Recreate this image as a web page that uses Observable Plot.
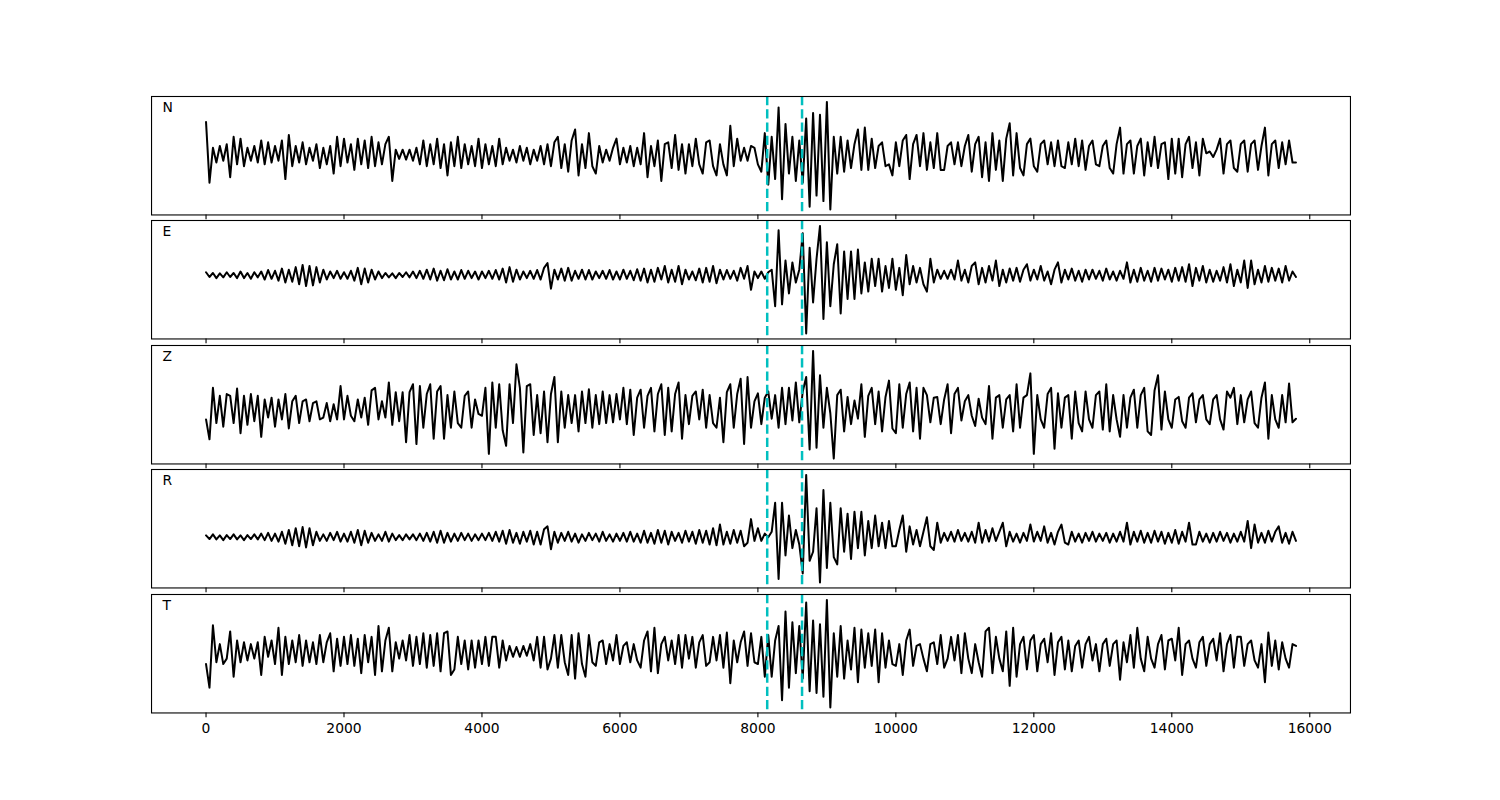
<!DOCTYPE html>
<html><head><meta charset="utf-8">
<script src="https://cdn.jsdelivr.net/npm/d3@7"></script>
<script src="https://cdn.jsdelivr.net/npm/@observablehq/plot@0.6"></script>
<style>
body{margin:0;background:#fff}
#fig{position:relative;width:1500px;height:800px;font-family:"DejaVu Sans",sans-serif;background:#fff}
</style>
</head><body><div id="fig"></div>
<script>
// Components (panel labels), top to bottom
const components = ["N", "E", "Z", "R", "T"];
// Sample spacing of the traces (samples)
const sampleStep = 50;
// Phase pick times (dashed cyan lines)
const pickTimes = [8135, 8640];
// x-axis ticks
const xTicks = [0, 2000, 4000, 6000, 8000, 10000, 12000, 14000, 16000];

const traceN = [
90,-75,20,-20,25,-15,30,-60,50,-25,45,-30,20,-15,25,-20,40,-25,35,-20,
25,-15,40,-65,55,-30,25,-20,35,-25,20,-15,30,-35,20,-25,25,-50,50,-30,
45,-20,30,-40,45,-25,40,-35,50,-30,35,-25,30,50,-70,15,-10,15,-12,15,
-15,20,-25,40,-30,30,-25,45,-35,30,-55,35,-30,50,-35,30,-25,25,-30,45,
-35,30,-25,25,-30,45,-25,20,-15,15,-20,25,-15,20,-25,15,-15,25,-25,30,
-30,35,50,-35,30,-45,40,70,-55,30,-35,60,-30,-50,25,-20,15,-15,20,45,
-25,20,-20,25,-30,20,-25,60,-60,25,-30,40,-70,30,35,-35,55,-40,30,-50,
30,-30,45,-25,-50,35,40,-30,-55,30,-25,-55,80,-30,45,-15,20,-15,25,20,
-25,-45,60,-80,50,-65,130,-120,85,-50,50,-70,40,-75,100,-140,115,-110,110,-125,
145,-148,50,-50,50,-45,40,-35,30,70,-40,75,-40,45,-35,25,35,-30,-25,-55,
35,-30,40,55,-65,30,55,-30,60,-40,35,-35,60,-40,-40,25,35,-25,35,-30,
25,55,-45,30,50,-60,35,-70,60,-40,40,-70,45,87,-55,60,-35,-55,30,45,
-30,-45,30,40,-25,35,-30,40,-30,-35,35,-25,45,-30,40,-40,25,40,-25,-30,
25,40,-35,-50,30,75,-50,30,40,-50,25,45,-55,35,-30,50,-35,30,35,-65,
45,-50,45,-60,30,50,-35,35,-55,45,5,10,-5,15,45,-50,30,40,-35,-45,
30,40,-45,30,40,-40,25,75,-55,30,40,-35,35,-25,40,-20,-20
];

const traceE = [
8,-5,6,-8,5,-6,8,-5,6,-8,10,-8,6,-10,8,-6,10,-12,14,-10,
12,-15,18,-20,15,-18,22,-25,28,-30,25,-28,22,-20,15,-12,10,-8,12,-10,
8,-10,12,-15,20,-25,18,-20,15,-12,10,-8,6,-6,5,-8,6,-5,8,-6,
10,-8,12,-10,15,-12,18,-15,12,-14,16,-12,10,-12,14,-10,12,-8,10,-12,
10,-8,12,-10,14,-12,18,-20,22,-18,15,-12,10,-8,12,-10,14,-12,20,33,
-37,15,-12,18,-15,20,-15,12,-10,15,-12,14,-12,10,-8,12,-10,14,-12,10,
-12,15,-10,12,-14,16,-15,18,-20,15,-18,20,-12,25,-20,15,-18,25,-25,15,
-12,10,-14,18,-20,20,-18,25,-22,15,-12,14,-10,12,-15,20,-10,25,-40,10,
-8,10,-10,8,15,-85,123,-80,40,-50,35,-20,15,115,-160,75,-75,45,135,-120,
90,-85,30,85,-105,65,-65,65,-65,70,-50,35,-45,45,-30,45,-45,25,-35,45,
-40,20,-55,55,-25,25,-20,20,-25,-45,45,-20,15,-10,12,-10,15,-12,40,-15,
15,-20,25,35,-25,20,-20,25,-15,40,-30,15,-20,18,-15,20,-18,15,30,-15,
15,-12,25,-15,10,-25,15,35,-20,15,-12,18,-15,12,-18,15,-12,15,-10,12,
-15,18,-12,10,-15,12,-10,35,-20,15,-18,20,-15,12,-18,20,-15,18,-12,15,
-18,20,-15,22,-18,30,-30,20,-15,25,-20,15,-18,12,-15,22,-20,30,-30,15,
-20,40,-35,40,-25,15,-20,25,-18,20,-15,18,-20,25,-15,10,-5
];

const traceZ = [
-30,-85,57,-40,35,-50,40,35,-40,55,-68,35,-45,40,-35,35,-78,25,-25,30,
-50,25,-30,40,-55,20,35,-40,20,25,-35,15,20,-30,-25,15,-35,12,-30,62,
-30,35,-20,-35,25,-25,30,-45,50,57,-30,20,-25,72,-45,45,-35,45,-93,45,
67,-98,62,-53,40,67,-83,47,62,-83,37,-53,47,-40,-53,35,47,-53,25,-15,
-20,57,-125,72,-53,67,-60,-103,67,-40,122,57,-121,62,67,-73,37,-68,47,-93,
40,87,-93,47,-53,37,-40,37,-63,47,-40,53,-53,37,-43,47,-40,37,-38,40,
-30,57,-43,52,-73,30,52,-53,35,57,-63,40,67,-73,57,-63,40,72,-83,37,
-43,35,47,-30,52,-53,37,-40,-53,30,-93,45,67,-53,40,82,-98,87,-53,20,
42,-43,30,47,-28,37,-53,57,-43,57,-33,72,-38,47,87,-113,159,-108,92,-53,
57,-13,-138,37,52,-63,32,-43,22,-28,67,-78,35,57,-43,47,-63,32,77,-55,
-68,67,-53,40,72,-63,57,-83,57,37,-38,30,32,-43,25,67,-68,40,57,-33,
20,37,-20,-48,27,-25,-43,62,-83,30,37,-53,25,37,-63,67,-53,30,37,97,
-125,37,-30,-53,40,57,-111,42,-53,30,37,-83,47,-40,-63,47,-30,-53,37,47,
-58,67,-63,37,-30,-78,37,-53,30,52,-53,37,57,-63,-73,50,92,-58,47,-30,
-53,25,32,-35,-53,30,42,-38,25,37,-30,-43,25,37,-30,-58,47,30,57,-43,
37,-38,25,47,-40,-53,30,72,-83,37,-30,-53,37,-38,69,-38,-28
];

const traceR = [
5,-5,8,-6,5,-8,6,-5,8,-6,5,-8,6,-5,8,-6,10,-8,12,-10,
10,-12,15,-18,20,-22,25,-25,28,-28,25,-22,15,-10,8,-10,12,-8,15,-12,
10,-12,15,-15,20,-22,18,-15,12,-10,8,-10,15,-12,10,-8,6,-8,8,-6,
8,-8,10,-10,12,-12,15,-15,18,-15,12,-12,10,-10,12,-8,10,-10,8,-8,
10,-8,12,-10,15,-12,18,-18,20,-15,12,-18,15,-12,18,-20,15,-20,22,30,
-33,15,-15,12,-10,15,-12,10,-15,8,-10,12,-8,10,-12,15,-10,8,-12,10,
-10,12,-12,15,-12,10,-15,18,-15,12,-18,20,-15,18,-20,15,-10,12,-15,18,
-12,15,-18,20,-15,18,-20,25,-22,35,-20,15,-18,20,-15,18,-25,-15,50,-10,
25,-10,10,0,15,95,-115,95,-50,60,-30,20,-20,-100,172,-65,-40,80,-125,130,
-85,95,-55,-75,80,-40,65,-60,70,-30,70,-50,45,-30,60,-25,40,-30,45,-25,
-25,20,60,-40,30,-20,20,-25,15,55,-25,-35,40,-15,12,-10,15,-12,20,-10,
12,-12,15,-15,40,-15,20,-12,25,-10,15,40,-25,15,-12,10,-15,12,-10,35,
-12,15,-10,30,-15,12,-20,15,35,-15,-20,15,-12,10,-15,12,-10,15,-12,10,
-10,12,-15,10,-12,15,-12,40,-20,15,-12,18,-15,12,-15,18,-12,15,-18,12,
-15,20,-18,15,-12,40,-20,-20,15,-12,10,-15,12,-12,15,-10,12,-15,10,-12,
15,-12,45,-30,35,-15,12,-15,18,-12,15,30,-15,12,-18,15,-10
];

const traceT = [
-35,-100,72,-30,20,-35,-20,55,-70,30,-30,25,-25,20,-20,25,-65,40,-15,30,
-35,65,-65,40,-35,30,-30,45,-40,30,-30,25,-35,45,-30,25,50,-55,35,-40,
40,-35,45,-40,35,-60,45,-30,40,-65,70,-55,30,65,-55,25,-20,30,-25,45,
-40,40,-35,50,-45,45,-40,50,-55,50,55,-65,-50,40,-35,30,-50,30,-45,30,
-35,40,-40,40,40,-45,30,-25,15,-15,12,-15,15,-12,20,-25,40,-45,40,-50,
-20,45,-45,45,-30,-65,45,-75,50,-35,-70,45,-30,-40,25,30,-35,20,-25,45,
-35,15,25,-30,20,-25,-45,30,55,-55,65,-60,20,40,-25,30,-35,45,-45,45,
-20,40,-45,25,45,-40,-30,40,-25,45,-45,52,-88,30,-30,25,55,-40,50,-30,
-35,40,-70,45,-70,30,70,-135,110,-100,80,-60,70,-75,135,-110,85,-115,75,-125,
142,-155,50,-70,70,-75,30,-50,65,-85,60,-45,50,-40,60,-85,50,-45,30,-35,
-40,20,-65,30,60,-40,15,20,-20,-55,20,25,-35,45,-45,-20,40,-25,45,-60,
50,-20,-60,20,-30,-70,55,65,-60,40,-20,-55,55,-95,65,-70,20,40,-50,30,
45,-55,20,35,-30,50,-65,25,40,-50,30,-55,15,30,-45,20,40,-25,20,-55,
20,35,-40,20,30,-78,25,-30,45,-45,65,-20,-55,40,-20,-45,20,45,-50,30,
35,-25,65,-65,20,30,-20,-45,25,40,-40,20,35,-25,50,-55,20,45,-45,40,
40,-40,20,30,-25,-45,20,-85,52,-40,30,-50,25,-20,-45,20,15
];

const traces = [traceN, traceE, traceZ, traceR, traceT];

const fig = document.getElementById("fig");
const W = 1500, mL = 151, mR = 150;
const figTop = 96, figBottom = 712;
const hspace = 0.05;
const axH = (figBottom - figTop) / (5 + 4 * hspace);
const gap = axH * hspace;

components.forEach((comp, k) => {
  const vals = traces[k];
  const data = vals.map((v, i) => ({t: i * sampleStep, v}));
  const tMax = (vals.length - 1) * sampleStep;
  const xPad = 0.05 * tMax;
  const [lo, hi] = d3.extent(vals);
  const r = hi - lo;
  const isLast = k === components.length - 1;
  const mb = isLast ? 40 : 5.5;
  const plot = Plot.plot({
    width: W,
    height: axH + mb,
    marginLeft: mL,
    marginRight: mR,
    marginTop: 0,
    marginBottom: mb,
    style: {background: "transparent", fontFamily: "DejaVu Sans, sans-serif", fontSize: "13.9px", color: "black", overflow: "visible"},
    x: {domain: [-xPad, tMax + xPad], label: null},
    y: {domain: [lo - 0.05 * r, hi + 0.05 * r], axis: null},
    marks: [
      Plot.line(data, {x: "t", y: "v", stroke: "black", strokeWidth: 2}),
      Plot.ruleX(pickTimes, {stroke: "#00bfbf", strokeWidth: 2.5, strokeDasharray: "9.25,4"}),
      Plot.frame({stroke: "black", strokeWidth: 1.1}),
      Plot.axisX(xTicks, {tickSize: 4.9, tickPadding: 5, tickFormat: isLast ? (d => String(d)) : (() => ""), fontSize: 13.9, stroke: "black", strokeWidth: 1.1}),
      Plot.text([comp], {frameAnchor: "top-left", dx: 11, dy: 6, text: d => d, textAnchor: "start", lineAnchor: "top", fontSize: 13.9, fill: "black"})
    ]
  });
  plot.style.position = "absolute";
  plot.style.left = "0px";
  plot.style.top = (figTop + k * (axH + gap)) + "px";
  fig.appendChild(plot);
});
</script>
</body></html>
